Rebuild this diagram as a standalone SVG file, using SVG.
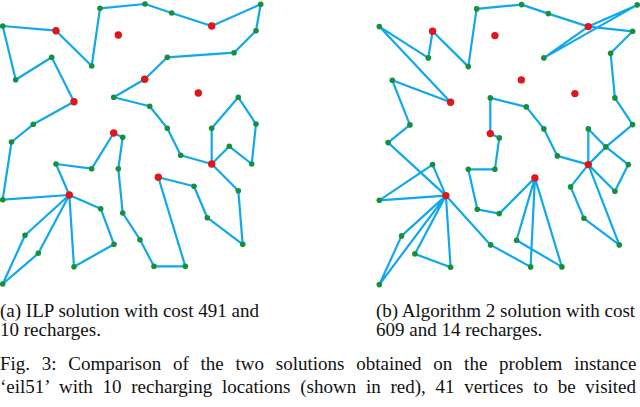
<svg xmlns="http://www.w3.org/2000/svg" width="640" height="407" viewBox="0 0 640 407">
<style>
.e{fill:none;stroke:#10a8ec;stroke-width:2.2;stroke-linejoin:round;stroke-linecap:round}
.g{fill:#17903c}
.r{fill:#e0161c}
.t{font-family:"Liberation Serif","Times New Roman",serif;font-size:19px;fill:#111}
</style>
<defs>
<circle id="rd" class="r" r="3.7"/>
<circle id="gd" class="g" r="2.8"/>
</defs>
<rect width="640" height="407" fill="#fff"/>
<g id="connectors">
<path id="tour-a" class="e" d="M15.7,79.7 L2.7,26 56,30.7 91.7,66 100,8.3 145,4 171.7,13 211.7,26 260.7,4.3 256,30.7 234,52.7 167.3,57.3 144.7,79.3 113.7,97.3 149.7,106.3 167.3,128.3 180.7,155.3 211.7,164 211.7,128.3 238.3,97.3 256,124 251.7,164 229.3,146.3 211.7,164 238.3,190.7 242.7,244.3 207.3,217.7 194,186.3 158.3,177.3 185.3,266.3 154,266.3 140,239.7 122.7,213 118.3,168.7 122.7,137.3 113.7,133 91.7,168.7 56,164 69.3,195 100.7,208.7 114,244.3 74,266.7 69.3,195 25,235.3 2.7,284 38.3,253.3 69.3,195 2.7,199.7 11.5,142 33.3,124.3 74,101.7 51.7,57.3 Z"/>
<path id="tour-b" class="e" transform="translate(376.6,0.6)" d="M2.7,26 L51.7,57.3 56,30.7 91.7,66 100,8.3 145,4 171.7,13 211.7,26 260.7,4.3 167.3,57.3 211.7,26 256,30.7 234,52.7 238.3,97.3 256,124 229.3,146.3 211.7,128.3 211.7,164 229.3,146.3 251.7,164 238.3,190.7 211.7,164 194,186.3 207.3,217.7 242.7,244.3 211.7,164 180.7,155.3 167.3,128.3 149.7,106.3 113.7,97.3 113.7,133 122.7,137.3 118.3,168.7 91.7,168.7 100.7,208.7 122.7,213 158.3,177.3 140,239.7 185.3,266.3 158.3,177.3 154,266.3 114,244.3 69.3,195 74,266.7 38.3,253.3 69.3,195 2.7,284 25,235.3 69.3,195 2.7,199.7 56,164 69.3,195 11.5,142 33.3,124.3 15.7,79.7 74,101.7 Z"/>
</g>
<g id="graph-a">
<g id="a-r1"><use href="#rd" x="56" y="30.7"/></g>
<g id="a-r2"><use href="#rd" x="118.3" y="35"/></g>
<g id="a-r3"><use href="#rd" x="74" y="101.7"/></g>
<g id="a-r4"><use href="#rd" x="211.7" y="26"/></g>
<g id="a-r5"><use href="#rd" x="144.7" y="79.3"/></g>
<g id="a-r6"><use href="#rd" x="198.3" y="93"/></g>
<g id="a-r7"><use href="#rd" x="113.7" y="133"/></g>
<g id="a-r8"><use href="#rd" x="211.7" y="164"/></g>
<g id="a-r9"><use href="#rd" x="158.3" y="177.3"/></g>
<g id="a-r10"><use href="#rd" x="69.3" y="195"/></g>
<g id="a-v1"><use href="#gd" x="2.7" y="26"/></g>
<g id="a-v2"><use href="#gd" x="100" y="8.3"/></g>
<g id="a-v3"><use href="#gd" x="51.7" y="57.3"/></g>
<g id="a-v4"><use href="#gd" x="15.7" y="79.7"/></g>
<g id="a-v5"><use href="#gd" x="91.7" y="66"/></g>
<g id="a-v6"><use href="#gd" x="113.7" y="97.3"/></g>
<g id="a-v7"><use href="#gd" x="33.3" y="124.3"/></g>
<g id="a-v8"><use href="#gd" x="11.5" y="142"/></g>
<g id="a-v9"><use href="#gd" x="122.7" y="137.3"/></g>
<g id="a-v10"><use href="#gd" x="145" y="4"/></g>
<g id="a-v11"><use href="#gd" x="171.7" y="13"/></g>
<g id="a-v12"><use href="#gd" x="260.7" y="4.3"/></g>
<g id="a-v13"><use href="#gd" x="256" y="30.7"/></g>
<g id="a-v14"><use href="#gd" x="234" y="52.7"/></g>
<g id="a-v15"><use href="#gd" x="167.3" y="57.3"/></g>
<g id="a-v16"><use href="#gd" x="149.7" y="106.3"/></g>
<g id="a-v17"><use href="#gd" x="167.3" y="128.3"/></g>
<g id="a-v18"><use href="#gd" x="238.3" y="97.3"/></g>
<g id="a-v19"><use href="#gd" x="211.7" y="128.3"/></g>
<g id="a-v20"><use href="#gd" x="256" y="124"/></g>
<g id="a-v21"><use href="#gd" x="56" y="164"/></g>
<g id="a-v22"><use href="#gd" x="91.7" y="168.7"/></g>
<g id="a-v23"><use href="#gd" x="118.3" y="168.7"/></g>
<g id="a-v24"><use href="#gd" x="2.7" y="199.7"/></g>
<g id="a-v25"><use href="#gd" x="100.7" y="208.7"/></g>
<g id="a-v26"><use href="#gd" x="122.7" y="213"/></g>
<g id="a-v27"><use href="#gd" x="25" y="235.3"/></g>
<g id="a-v28"><use href="#gd" x="38.3" y="253.3"/></g>
<g id="a-v29"><use href="#gd" x="114" y="244.3"/></g>
<g id="a-v30"><use href="#gd" x="74" y="266.7"/></g>
<g id="a-v31"><use href="#gd" x="2.7" y="284"/></g>
<g id="a-v32"><use href="#gd" x="140" y="239.7"/></g>
<g id="a-v33"><use href="#gd" x="180.7" y="155.3"/></g>
<g id="a-v34"><use href="#gd" x="229.3" y="146.3"/></g>
<g id="a-v35"><use href="#gd" x="251.7" y="164"/></g>
<g id="a-v36"><use href="#gd" x="194" y="186.3"/></g>
<g id="a-v37"><use href="#gd" x="238.3" y="190.7"/></g>
<g id="a-v38"><use href="#gd" x="207.3" y="217.7"/></g>
<g id="a-v39"><use href="#gd" x="242.7" y="244.3"/></g>
<g id="a-v40"><use href="#gd" x="154" y="266.3"/></g>
<g id="a-v41"><use href="#gd" x="185.3" y="266.3"/></g>
</g>
<g id="graph-b" transform="translate(376.6,0.6)">
<g id="b-r1"><use href="#rd" x="56" y="30.7"/></g>
<g id="b-r2"><use href="#rd" x="118.3" y="35"/></g>
<g id="b-r3"><use href="#rd" x="74" y="101.7"/></g>
<g id="b-r4"><use href="#rd" x="211.7" y="26"/></g>
<g id="b-r5"><use href="#rd" x="144.7" y="79.3"/></g>
<g id="b-r6"><use href="#rd" x="198.3" y="93"/></g>
<g id="b-r7"><use href="#rd" x="113.7" y="133"/></g>
<g id="b-r8"><use href="#rd" x="211.7" y="164"/></g>
<g id="b-r9"><use href="#rd" x="158.3" y="177.3"/></g>
<g id="b-r10"><use href="#rd" x="69.3" y="195"/></g>
<g id="b-v1"><use href="#gd" x="2.7" y="26"/></g>
<g id="b-v2"><use href="#gd" x="100" y="8.3"/></g>
<g id="b-v3"><use href="#gd" x="51.7" y="57.3"/></g>
<g id="b-v4"><use href="#gd" x="15.7" y="79.7"/></g>
<g id="b-v5"><use href="#gd" x="91.7" y="66"/></g>
<g id="b-v6"><use href="#gd" x="113.7" y="97.3"/></g>
<g id="b-v7"><use href="#gd" x="33.3" y="124.3"/></g>
<g id="b-v8"><use href="#gd" x="11.5" y="142"/></g>
<g id="b-v9"><use href="#gd" x="122.7" y="137.3"/></g>
<g id="b-v10"><use href="#gd" x="145" y="4"/></g>
<g id="b-v11"><use href="#gd" x="171.7" y="13"/></g>
<g id="b-v12"><use href="#gd" x="260.7" y="4.3"/></g>
<g id="b-v13"><use href="#gd" x="256" y="30.7"/></g>
<g id="b-v14"><use href="#gd" x="234" y="52.7"/></g>
<g id="b-v15"><use href="#gd" x="167.3" y="57.3"/></g>
<g id="b-v16"><use href="#gd" x="149.7" y="106.3"/></g>
<g id="b-v17"><use href="#gd" x="167.3" y="128.3"/></g>
<g id="b-v18"><use href="#gd" x="238.3" y="97.3"/></g>
<g id="b-v19"><use href="#gd" x="211.7" y="128.3"/></g>
<g id="b-v20"><use href="#gd" x="256" y="124"/></g>
<g id="b-v21"><use href="#gd" x="56" y="164"/></g>
<g id="b-v22"><use href="#gd" x="91.7" y="168.7"/></g>
<g id="b-v23"><use href="#gd" x="118.3" y="168.7"/></g>
<g id="b-v24"><use href="#gd" x="2.7" y="199.7"/></g>
<g id="b-v25"><use href="#gd" x="100.7" y="208.7"/></g>
<g id="b-v26"><use href="#gd" x="122.7" y="213"/></g>
<g id="b-v27"><use href="#gd" x="25" y="235.3"/></g>
<g id="b-v28"><use href="#gd" x="38.3" y="253.3"/></g>
<g id="b-v29"><use href="#gd" x="114" y="244.3"/></g>
<g id="b-v30"><use href="#gd" x="74" y="266.7"/></g>
<g id="b-v31"><use href="#gd" x="2.7" y="284"/></g>
<g id="b-v32"><use href="#gd" x="140" y="239.7"/></g>
<g id="b-v33"><use href="#gd" x="180.7" y="155.3"/></g>
<g id="b-v34"><use href="#gd" x="229.3" y="146.3"/></g>
<g id="b-v35"><use href="#gd" x="251.7" y="164"/></g>
<g id="b-v36"><use href="#gd" x="194" y="186.3"/></g>
<g id="b-v37"><use href="#gd" x="238.3" y="190.7"/></g>
<g id="b-v38"><use href="#gd" x="207.3" y="217.7"/></g>
<g id="b-v39"><use href="#gd" x="242.7" y="244.3"/></g>
<g id="b-v40"><use href="#gd" x="154" y="266.3"/></g>
<g id="b-v41"><use href="#gd" x="185.3" y="266.3"/></g>
</g>
<g id="captions">
<text class="t" x="0" y="317">(a) ILP solution with cost 491 and</text>
<text class="t" x="0" y="336">10 recharges.</text>
<text class="t" x="376" y="317">(b) Algorithm 2 solution with cost</text>
<text class="t" x="376" y="336">609 and 14 recharges.</text>
<text class="t" x="0" y="370" word-spacing="7">Fig. 3: Comparison of the two solutions obtained on the problem instance</text>
<text class="t" x="0" y="393" word-spacing="5">‘eil51’ with 10 recharging locations (shown in red), 41 vertices to be visited</text>
</g>
</svg>
